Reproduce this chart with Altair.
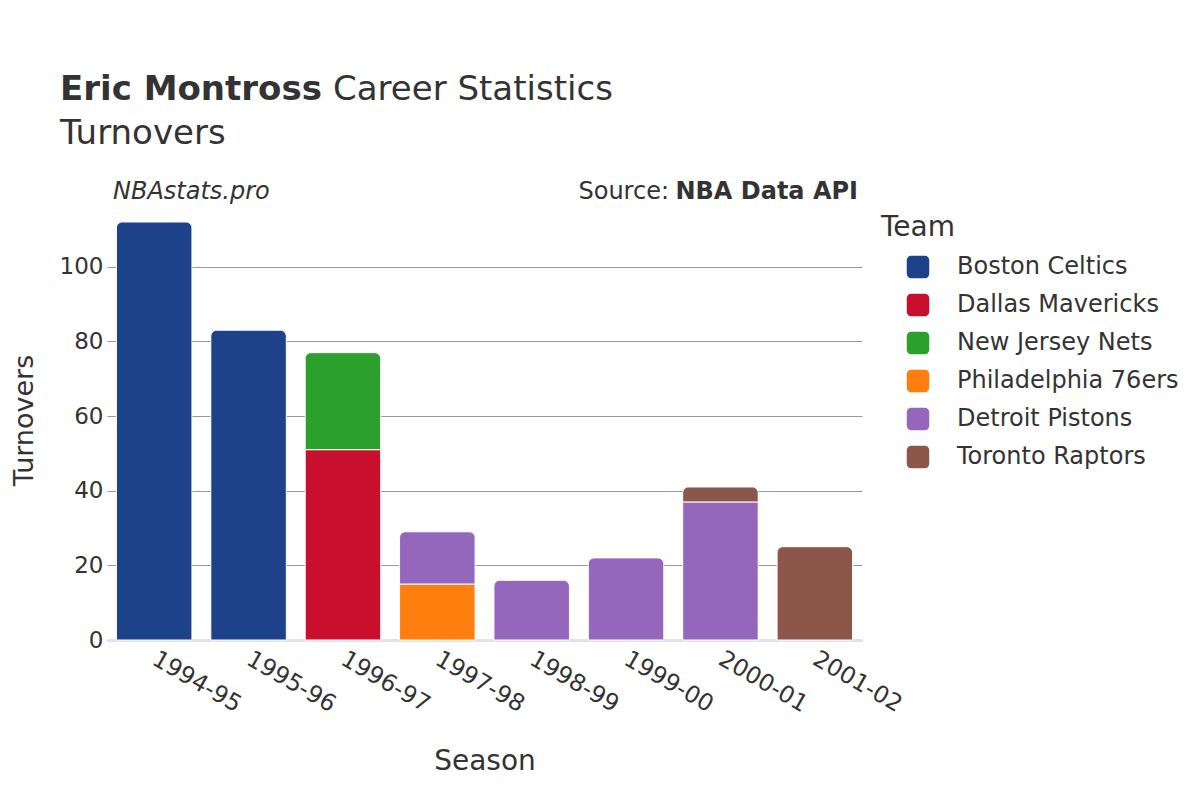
import altair as alt
import pandas as pd

seasons = ["1994-95", "1995-96", "1996-97", "1996-97", "1997-98", "1997-98",
           "1998-99", "1999-00", "2000-01", "2000-01", "2001-02"]
teams = ["Boston Celtics", "Boston Celtics", "Dallas Mavericks", "New Jersey Nets",
         "Philadelphia 76ers", "Detroit Pistons", "Detroit Pistons", "Detroit Pistons",
         "Detroit Pistons", "Toronto Raptors", "Toronto Raptors"]
turnovers = [112, 83, 51, 26, 15, 14, 16, 22, 37, 4, 25]

team_order = ["Boston Celtics", "Dallas Mavericks", "New Jersey Nets",
              "Philadelphia 76ers", "Detroit Pistons", "Toronto Raptors"]
team_colors = ["#1d428a", "#c8102e", "#2ca02c", "#ff7f0e", "#9467bd", "#8c564b"]
season_order = ["1994-95", "1995-96", "1996-97", "1997-98", "1998-99",
                "1999-00", "2000-01", "2001-02"]

df = pd.DataFrame({"Season": seasons, "Team": teams, "Turnovers": turnovers})
df["order"] = [team_order.index(t) for t in df["Team"]]

FONT = "DejaVu Sans"
TXT = "#333333"

W, H = 755, 418

base = (
    alt.Chart(df)
    .transform_stack(stack="Turnovers", groupby=["Season"], as_=["y0", "y1"],
                     sort=[alt.SortField("order", order="ascending")])
    .transform_joinaggregate(top="max(y1)", groupby=["Season"])
)

x_enc = alt.X("Season:N", sort=season_order, title="Season",
              scale=alt.Scale(paddingInner=0.2, paddingOuter=0.1),
              axis=alt.Axis(labelAngle=30, labelAlign="left", labelBaseline="middle",
                            labelFontSize=23.5, labelPadding=17, labelColor=TXT,
                            titleFontSize=28, titleColor=TXT, titleFontWeight="normal",
                            titlePadding=31, ticks=False, domainColor="#e3e3e3",
                            domainWidth=3, grid=False))
y_enc = alt.Y("y1:Q", title="Turnovers",
              scale=alt.Scale(domain=[0, 112], nice=False),
              axis=alt.Axis(values=[0, 20, 40, 60, 80, 100], labelFontSize=23,
                            labelColor=TXT, labelPadding=4, ticks=False, domain=False,
                            gridColor="#999999", gridWidth=1,
                            titleFontSize=27, titleColor=TXT, titleFontWeight="normal",
                            titlePadding=21, titleY=198))
color_enc = alt.Color("Team:N", scale=alt.Scale(domain=team_order, range=team_colors),
                      legend=alt.Legend(title=None, orient="none", legendX=799, legendY=33,
                                        labelFontSize=24, labelColor=TXT, labelFont=FONT,
                                        labelLimit=0,
                                        symbolType="M -0.6 -1 H 0.6 A 0.4 0.4 0 0 1 1 -0.6 V 0.6 A 0.4 0.4 0 0 1 0.6 1 H -0.6 A 0.4 0.4 0 0 1 -1 0.6 V -0.6 A 0.4 0.4 0 0 1 -0.6 -1 Z",
                                        symbolSize=506, symbolStrokeWidth=0,
                                        symbolOpacity=1, labelOffset=27, rowPadding=14))

bars_mid = base.transform_filter("datum.y1 < datum.top").mark_bar(
    stroke="white", strokeWidth=1).encode(
    x=x_enc, y=y_enc, y2="y0:Q", color=color_enc)
bars_top = base.transform_filter("datum.y1 >= datum.top").mark_bar(
    stroke="white", strokeWidth=1, cornerRadiusTopLeft=6, cornerRadiusTopRight=6).encode(
    x=x_enc, y=y_enc, y2="y0:Q", color=color_enc)


def label(text, x, y, size, weight="normal", style="normal", align="left"):
    return alt.Chart(pd.DataFrame({"t": [text]})).mark_text(
        font=FONT, fontSize=size, fontWeight=weight, fontStyle=style, align=align,
        baseline="alphabetic", color=TXT).encode(
        text="t:N", x=alt.value(x), y=alt.value(y))


texts = [
    label("Eric Montross", -47, -122, 34, weight="bold"),
    label("Career Statistics", 226, -122, 34),
    label("Turnovers", -47, -78, 34),
    label("NBAstats.pro", 6, -23, 24, style="italic"),
    label("Source:", 562, -23, 24, align="right"),
    label("NBA Data API", 751, -23, 24, weight="bold", align="right"),
    label("Team", 774, 14, 28),
]

chart = alt.layer(bars_mid, bars_top, *texts).properties(
    width=W, height=H,
    autosize=alt.AutoSizeParams(type="none"),
    padding={"left": 99, "top": 214, "right": 330, "bottom": 152},
).configure(font=FONT).configure_view(stroke="transparent", strokeWidth=0)

chart.save("out.html", embed_options={"renderer": "svg", "actions": False})
